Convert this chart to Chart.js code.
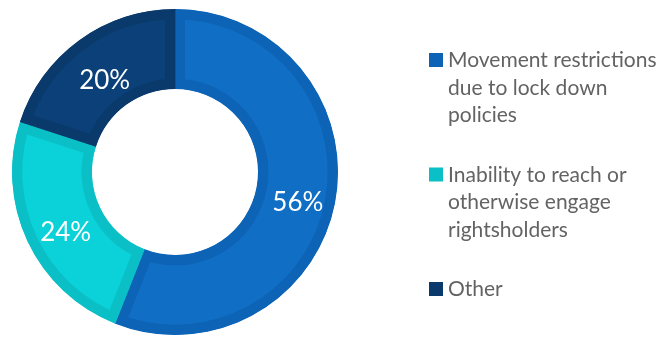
<!DOCTYPE html>
<html>
<head>
<meta charset="utf-8">
<script src="https://cdn.jsdelivr.net/npm/chart.js@4"></script>
<style>
  html, body { margin: 0; padding: 0; background: #ffffff; }
  #wrap { width: 665px; height: 338px; }
</style>
</head>
<body>
<div id="wrap"><canvas id="c" width="665" height="338"></canvas></div>
<script>
// Reasons given, one array of wrapped lines per category
const categories = [
  ['Movement restrictions', 'due to lock down', 'policies'],
  ['Inability to reach or', 'otherwise engage', 'rightsholders'],
  ['Other']
];
// Share of respondents, in percent
const shares = [56, 24, 20];
const valueLabels = ['56%', '24%', '20%'];

const fillColors = ['#106fc5', '#0ad2d8', '#0b4178'];
const edgeColors = ['#0d63b5', '#0bbfc6', '#0a396b'];

// White percentage text near the middle of each ring segment
const sliceLabels = {
  id: 'sliceLabels',
  afterDatasetsDraw(chart) {
    const ctx = chart.ctx;
    const meta = chart.getDatasetMeta(0);
    ctx.save();
    ctx.font = '400 26px Lato, "Open Sans", sans-serif';
    ctx.fillStyle = '#ffffff';
    ctx.textAlign = 'center';
    ctx.textBaseline = 'middle';
    meta.data.forEach((arc, i) => {
      const p = arc.tooltipPosition();
      ctx.fillText(valueLabels[i], p.x + 2, p.y + 8);
    });
    ctx.restore();
  }
};

// Legend on the right with square swatches and wrapped labels
const sideLegend = {
  id: 'sideLegend',
  afterDraw(chart) {
    const ctx = chart.ctx;
    const x = 429, box = 14, textX = 448, lineH = 27.5, gap = 32;
    let baseline = 67;
    ctx.save();
    ctx.font = '400 21px Lato, "Open Sans", sans-serif';
    ctx.textBaseline = 'alphabetic';
    ctx.textAlign = 'left';
    chart.data.labels.forEach((lines, i) => {
      ctx.fillStyle = edgeColors[i];
      ctx.fillRect(x, baseline - box, box, box);
      ctx.fillStyle = '#636363';
      lines.forEach((t, k) => ctx.fillText(t, textX, baseline + k * lineH));
      baseline += lines.length * lineH + gap;
    });
    ctx.restore();
  }
};

new Chart(document.getElementById('c'), {
  type: 'doughnut',
  data: {
    labels: categories,
    datasets: [{
      data: shares,
      backgroundColor: fillColors,
      borderColor: edgeColors,
      borderWidth: 10,
      borderAlign: 'inner',
      hoverOffset: 0
    }]
  },
  options: {
    responsive: false,
    animation: false,
    devicePixelRatio: 1,
    cutout: 83,
    rotation: 0,
    layout: { padding: { left: 12, right: 327, top: 9, bottom: 3 } },
    plugins: {
      legend: { display: false },
      tooltip: { enabled: false }
    }
  },
  plugins: [sliceLabels, sideLegend]
});
</script>
</body>
</html>
